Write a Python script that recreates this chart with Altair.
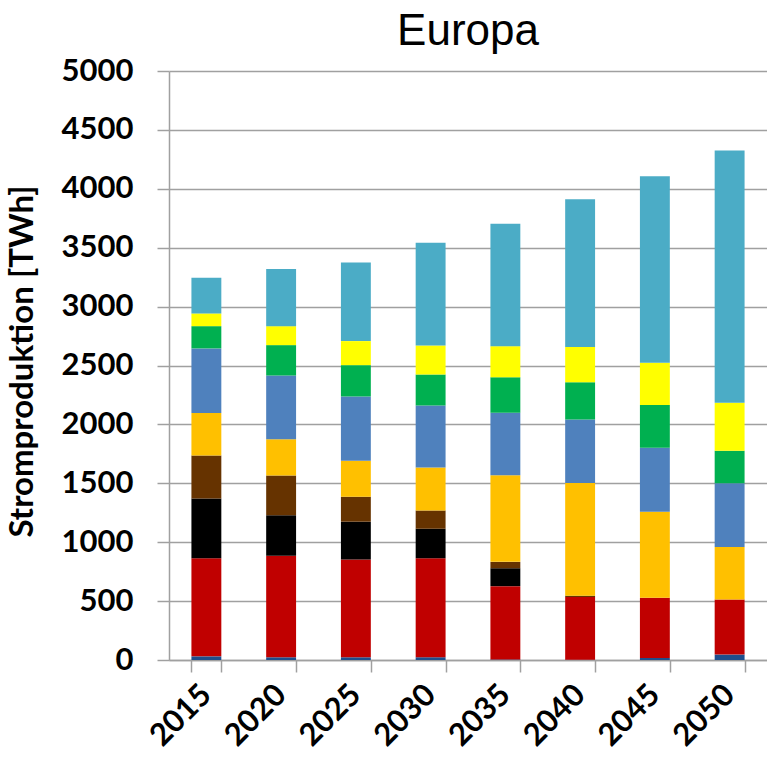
import altair as alt
import pandas as pd

years = ["2015", "2020", "2025", "2030", "2035", "2040", "2045", "2050"]
series = ["Öl", "Kernenergie", "Steinkohle", "Braunkohle", "Erdgas",
          "Wasserkraft", "Biomasse", "Photovoltaik", "Wind"]
colors = ["#1F4E8C", "#C00000", "#000000", "#663300", "#FFC000",
          "#4F81BD", "#00B050", "#FFFF00", "#4BACC6"]

oel = [31, 23, 23, 23, 5, 3, 17, 46]
kern = [832, 862, 831, 840, 622, 532, 512, 468]
stein = [509, 343, 320, 251, 152, 0, 0, 0]
braun = [365, 339, 212, 156, 54, 11, 0, 0]
gas = [359, 308, 305, 365, 736, 957, 730, 446]
wasser = [549, 540, 546, 526, 529, 538, 543, 540]
bio = [189, 258, 266, 263, 302, 316, 362, 276]
pv = [108, 161, 204, 246, 264, 299, 359, 408]
wind = [302, 486, 667, 871, 1040, 1256, 1584, 2141]

data = [oel, kern, stein, braun, gas, wasser, bio, pv, wind]
rows = []
for i, (name, vals) in enumerate(zip(series, data)):
    for y, v in zip(years, vals):
        rows.append({"Jahr": y, "Quelle": name, "TWh": v, "idx": i})
df = pd.DataFrame(rows)

grey = "#A0A0A0"
lab_font = "Lato"

chart = alt.Chart(df).mark_bar().encode(
    x=alt.X("Jahr:N", sort=years,
            scale=alt.Scale(paddingInner=0.6, paddingOuter=0.3),
            axis=alt.Axis(title=None, labelAngle=-45, labelAlign="right",
                          labelBaseline="middle", labelFont=lab_font,
                          labelFontSize=31, labelFontWeight="bold",
                          labelColor="black", tickBand="extent", tickSize=12,
                          tickColor=grey, tickWidth=1.5, domainColor=grey,
                          domainWidth=1.5, labelPadding=18, grid=False)),
    y=alt.Y("TWh:Q", stack="zero",
            scale=alt.Scale(domain=[0, 5000], nice=False),
            axis=alt.Axis(values=list(range(0, 5001, 500)), format="d",
                          title="Stromproduktion [TWh]",
                          titleFont=lab_font, titleFontSize=33,
                          titleFontWeight="bold", titleColor="black",
                          titleAngle=-90, titleAlign="center",
                          titleBaseline="alphabetic",
                          titleX=-137, titleY=290,
                          labelFont=lab_font, labelFontSize=31,
                          labelFontWeight="bold", labelColor="black",
                          labelPadding=24, tickSize=12, tickColor=grey,
                          tickWidth=1.5, domainColor=grey, domainWidth=1.5,
                          gridColor=grey, gridWidth=1.5)),
    color=alt.Color("Quelle:N", scale=alt.Scale(domain=series, range=colors),
                    legend=None),
    order=alt.Order("idx:Q", sort="ascending"),
).properties(
    width=598,
    height=589,
    autosize=alt.AutoSizeParams(type="none"),
    padding={"left": 169, "top": 71, "right": 0, "bottom": 103},
    title=alt.TitleParams("Europa", font="Liberation Sans", fontSize=44,
                          fontWeight="normal", color="black",
                          anchor="middle", baseline="alphabetic", offset=8,
                          dy=42),
).configure_view(stroke=None)

chart.save("out.html", embed_options={"renderer": "svg", "actions": False})
